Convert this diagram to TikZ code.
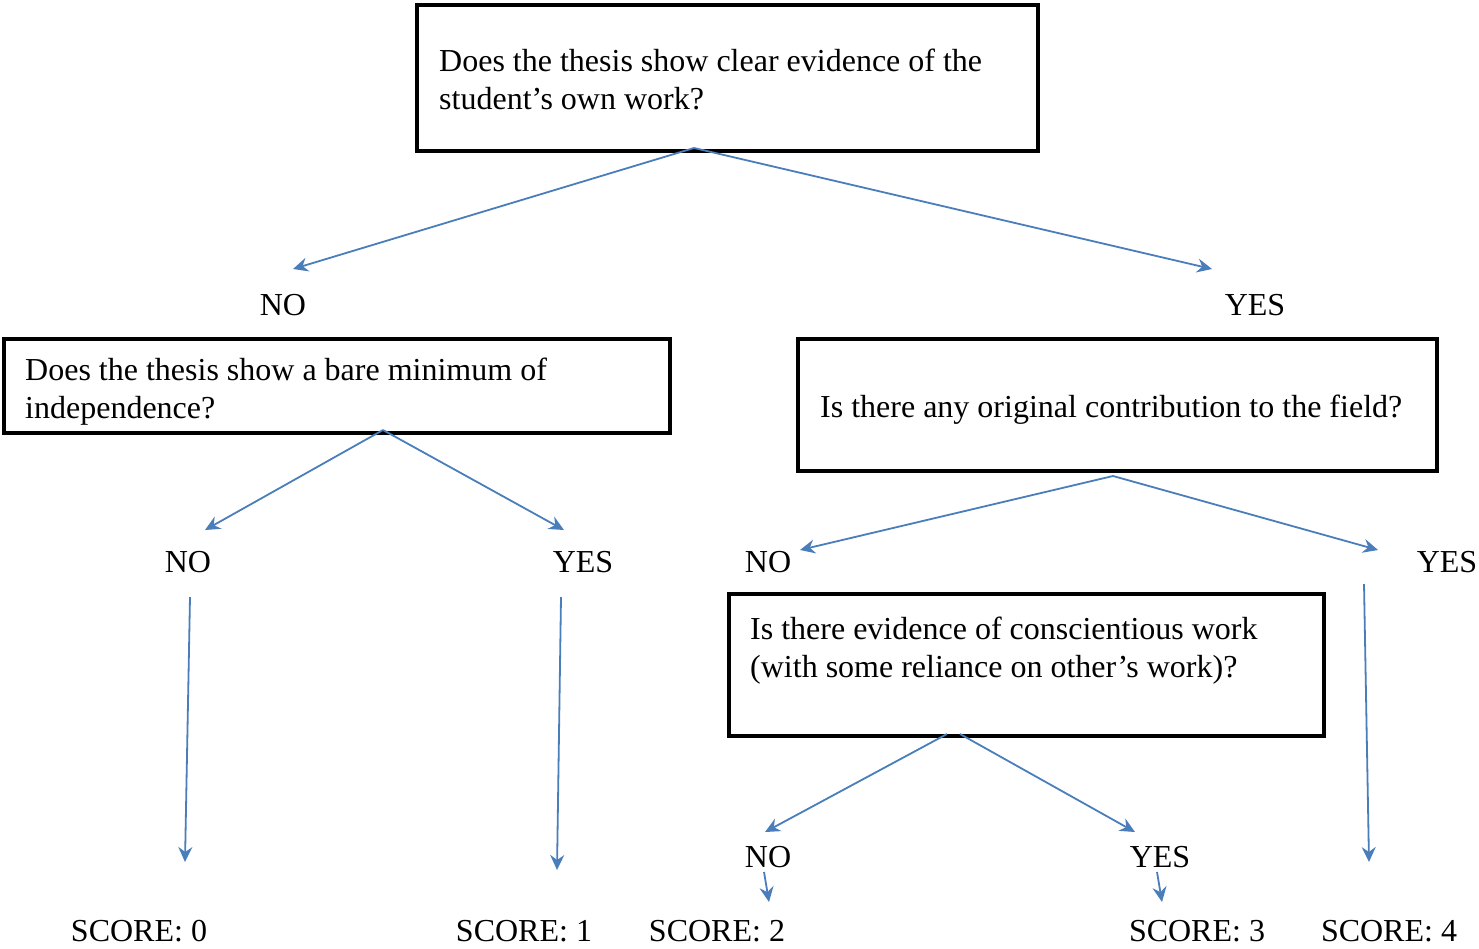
\documentclass[tikz,border=0pt]{standalone}
\usepackage{fontspec}
\setmainfont{Liberation Serif}
\usetikzlibrary{arrows.meta}
\definecolor{linkblue}{HTML}{4A7EBB}
\tikzset{
  qbox/.style={draw=black, line width=3.2pt, rectangle, inner sep=0pt},
  qtext/.style={anchor=north west, inner sep=0pt, align=left},
  lbl/.style={inner sep=0pt},
  link/.style={draw=linkblue, line width=1.8pt,
    -{Stealth[length=15pt,width=14pt,inset=5pt]}},
}
\begin{document}
\begin{tikzpicture}[x=1pt,y=-1pt,font=\fontsize{32}{38}\selectfont]
\useasboundingbox (0,0) rectangle (1479,948);

% question boxes
\node[qbox, minimum width=621pt, minimum height=146pt] (q1) at (727.5,78) {};
\node[qbox, minimum width=666pt, minimum height=94pt]  (q2) at (337,386) {};
\node[qbox, minimum width=639pt, minimum height=132pt] (q3) at (1117.5,405) {};
\node[qbox, minimum width=595pt, minimum height=142pt] (q4) at (1026.5,665) {};

% question texts
\node[qtext] (t1) at (439,49) {Does the thesis show clear evidence of the\\student’s own work?};
\node[qtext] (t2) at (25,358) {Does the thesis show a bare minimum of\\independence?};
\node[qtext] (t3) at (820,395) {Is there any original contribution to the field?};
\node[qtext] (t4) at (750,617) {Is there evidence of conscientious work\\(with some reliance on other’s work)?};

% answer labels
\node[lbl] (a1no)  at (283,305)  {NO};
\node[lbl] (a1yes) at (1255,305) {YES};
\node[lbl] (a2no)  at (188,562)  {NO};
\node[lbl] (a2yes) at (583,562)  {YES};
\node[lbl] (a3no)  at (768,562)  {NO};
\node[lbl] (a3yes) at (1447,562) {YES};
\node[lbl] (a4no)  at (768,857)  {NO};
\node[lbl] (a4yes) at (1160,857) {YES};

% scores
\node[lbl] (s0) at (139,931)  {SCORE: 0};
\node[lbl] (s1) at (524,931)  {SCORE: 1};
\node[lbl] (s2) at (717,931)  {SCORE: 2};
\node[lbl] (s3) at (1197,931) {SCORE: 3};
\node[lbl] (s4) at (1389,931) {SCORE: 4};

% connector start and end points
\coordinate (q1b)  at (694,148);
\coordinate (q2b)  at (383,430);
\coordinate (q3b)  at (1113,476);
\coordinate (q4bl) at (947,734);
\coordinate (q4br) at (960,734);
\coordinate (e1no)  at (293,269);
\coordinate (e1yes) at (1212,269);
\coordinate (e2no)  at (205,530);
\coordinate (e2yes) at (564,530);
\coordinate (e3no)  at (800,550);
\coordinate (e3yes) at (1378,550);
\coordinate (e4no)  at (765,832);
\coordinate (e4yes) at (1135,832);
\coordinate (v0a) at (190,597);
\coordinate (v0b) at (185,862);
\coordinate (v1a) at (561,597);
\coordinate (v1b) at (557,870);
\coordinate (v4a) at (1364,584);
\coordinate (v4b) at (1369,862);
\coordinate (v2a) at (764,872);
\coordinate (v2b) at (769,902);
\coordinate (v3a) at (1157,872);
\coordinate (v3b) at (1162,902);

% branches
\draw[link] (q1b) -- (e1no);
\draw[link] (q1b) -- (e1yes);
\draw[link] (q2b) -- (e2no);
\draw[link] (q2b) -- (e2yes);
\draw[link] (q3b) -- (e3no);
\draw[link] (q3b) -- (e3yes);
\draw[link] (q4bl) -- (e4no);
\draw[link] (q4br) -- (e4yes);

% down to the scores
\draw[link] (v0a) -- (v0b);
\draw[link] (v1a) -- (v1b);
\draw[link] (v4a) -- (v4b);
\draw[link] (v2a) -- (v2b);
\draw[link] (v3a) -- (v3b);
\end{tikzpicture}
\end{document}
